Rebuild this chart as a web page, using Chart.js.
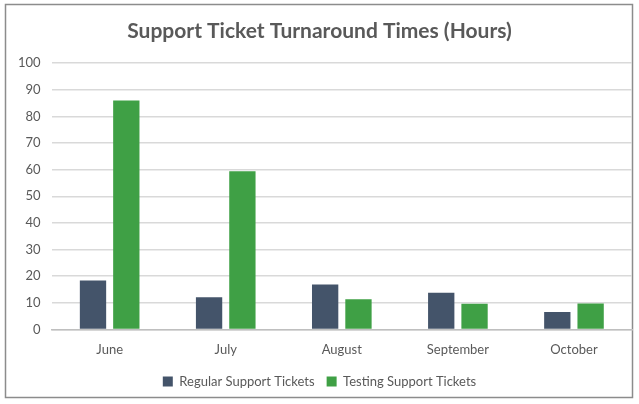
<!DOCTYPE html>
<html>
<head>
<meta charset="utf-8">
<script src="https://cdn.jsdelivr.net/npm/chart.js@4"></script>
<style>
  html, body { margin: 0; padding: 0; background: #fff; }
  #wrap { width: 639px; height: 404px; }
</style>
</head>
<body>
<div id="wrap"><canvas id="barChart" width="639" height="404"></canvas></div>
<script>
// BAR CHART

const months = ['June', 'July', 'August', 'September', 'October'];
const regularTickets = [18.4, 12.1, 16.9, 13.8, 6.5];
const testingTickets = [86, 59.4, 11.3, 9.6, 9.7];
const yTicks = [0, 10, 20, 30, 40, 50, 60, 70, 80, 90, 100];

const textGrey = '#595959';
const fontName = 'Lato, "Open Sans", sans-serif';

// white background + outer frame like the original
const framePlugin = {
    id: 'frame',
    beforeDraw(chart) {
        const ctx = chart.ctx;
        ctx.save();
        ctx.fillStyle = '#ffffff';
        ctx.fillRect(0, 0, chart.width, chart.height);
        ctx.strokeStyle = '#8c8c8c';
        ctx.lineWidth = 1.5;
        ctx.strokeRect(5.5, 4.5, 627, 393);
        ctx.restore();
    }
};

const barChart = document.getElementById('barChart');

new Chart(barChart, {
    type: 'bar',
    data: {
        labels: months,
        datasets: [
            {
                label: 'Regular Support Tickets',
                data: regularTickets,
                backgroundColor: '#44546A'
            },
            {
                label: 'Testing Support Tickets',
                data: testingTickets,
                backgroundColor: '#3FA045'
            }
        ]
    },
    options: {
        responsive: false,
        animation: false,
        categoryPercentage: 0.574,
        barPercentage: 0.79,
        layout: {
            padding: { left: 7, right: 7, top: 0, bottom: 6 }
        },
        plugins: {
            title: {
                display: true,
                text: 'Support Ticket Turnaround Times (Hours)',
                color: textGrey,
                font: { family: fontName, size: 21, weight: 'bold' },
                padding: { top: 19, bottom: 19 }
            },
            legend: {
                position: 'bottom',
                labels: {
                    color: textGrey,
                    font: { family: fontName, size: 13 },
                    boxWidth: 10,
                    boxHeight: 10,
                    padding: 12
                }
            },
            tooltip: { enabled: false }
        },
        scales: {
            x: {
                grid: { display: false },
                border: { color: '#bfbfbf', width: 1.5 },
                ticks: {
                    color: textGrey,
                    font: { family: fontName, size: 13 },
                    padding: 5
                }
            },
            y: {
                min: 0,
                max: 100,
                afterBuildTicks(axis) {
                    axis.ticks = yTicks.map(v => ({ value: v }));
                },
                grid: { color: '#d9d9d9', lineWidth: 1.5, drawTicks: false },
                border: { display: false },
                ticks: {
                    color: textGrey,
                    font: { family: fontName, size: 13 },
                    padding: 11
                }
            }
        }
    },
    plugins: [framePlugin]
});
</script>
</body>
</html>
